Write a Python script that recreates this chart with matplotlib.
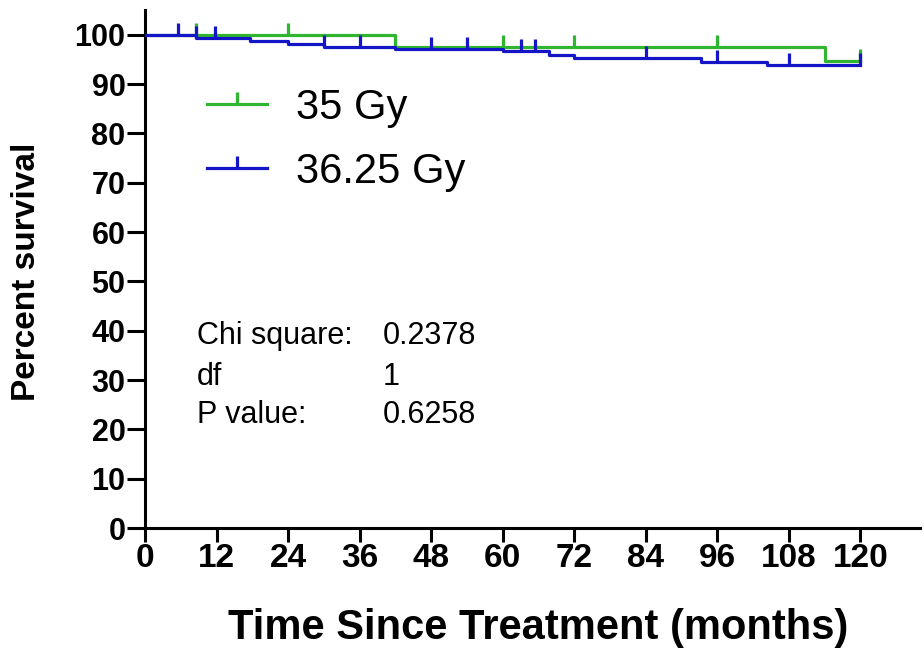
import matplotlib
matplotlib.use("Agg")
import matplotlib.pyplot as plt
from matplotlib.lines import Line2D

# ---- data ----
green_label = "35 Gy"
green_times = [0, 42, 114, 120]
green_surv = [100, 97.4, 94.7, 94.7]
green_censor_t = [8.5, 24, 60, 72, 96, 120]

blue_label = "36.25 Gy"
blue_times = [0, 8.5, 17.6, 24, 30, 42, 60, 67.8, 72, 93.2, 104.3, 120]
blue_surv = [100, 99.3, 98.7, 98.2, 97.6, 97.1, 96.6, 95.9, 95.3, 94.5, 93.8, 93.8]
blue_censor_t = [5.5, 8.5, 11.7, 30, 36, 48, 54, 63, 65.5, 84, 96, 108, 120]

x_ticks = [0, 12, 24, 36, 48, 60, 72, 84, 96, 108, 120]
y_ticks = [0, 10, 20, 30, 40, 50, 60, 70, 80, 90, 100]

stat_names = ["Chi square:", "df", "P value:"]
stat_values = ["0.2378", "1", "0.6258"]

GREEN = "#2fb52f"
BLUE = "#1515c8"

def level_at(times, surv, t):
    lv = surv[0]
    for ti, si in zip(times, surv):
        if ti <= t:
            lv = si
    return lv

W, H = 924, 655
fig = plt.figure(figsize=(W / 100, H / 100), dpi=100)
ax = fig.add_axes([145 / W, (H - 528) / H, 775 / W, 518 / H])

ax.step(green_times, green_surv, where="post", color=GREEN, lw=2.3, zorder=3)
ax.plot(green_censor_t, [level_at(green_times, green_surv, t) for t in green_censor_t],
        ls="none", marker=2, ms=9, mew=2.3, color=GREEN, zorder=3)
ax.step(blue_times, blue_surv, where="post", color=BLUE, lw=2.3, zorder=4)
ax.plot(blue_censor_t, [level_at(blue_times, blue_surv, t) for t in blue_censor_t],
        ls="none", marker=2, ms=9, mew=2.3, color=BLUE, zorder=4)

ax.set_xlim(0, 130)
ax.set_ylim(0, 105)
ax.set_xticks(x_ticks)
ax.set_yticks(y_ticks)
for s in ["top", "right"]:
    ax.spines[s].set_visible(False)
for s in ["left", "bottom"]:
    ax.spines[s].set_linewidth(2.2)

ax.tick_params(axis="both", direction="out", width=2.2, color="black")
ax.tick_params(axis="x", length=10, pad=1)
ax.tick_params(axis="y", length=13, pad=1)
for lab in ax.get_xticklabels():
    lab.set_fontfamily("Liberation Sans")
    lab.set_fontweight("bold")
    lab.set_fontsize(24)
for lab in ax.get_yticklabels():
    lab.set_fontfamily("Liberation Sans")
    lab.set_fontweight("bold")
    lab.set_fontsize(22)

ax.set_xlabel("Time Since Treatment (months)", fontsize=30, fontweight="bold",
              fontfamily="Liberation Sans")
ax.set_ylabel("Percent survival", fontsize=24, fontweight="bold",
              fontfamily="Liberation Sans")
ax.xaxis.set_label_coords((538 - 145) / 775, (528 - 628) / 518)
ax.xaxis.label.set_va("center")
ax.yaxis.set_label_coords((27 - 145) / 775, (528 - 272) / 518)
ax.yaxis.label.set_va("center")

handles = [Line2D([0], [0], color=GREEN, lw=2.3, marker=2, ms=9, mew=2.3),
           Line2D([0], [0], color=BLUE, lw=2.3, marker=2, ms=9, mew=2.3)]
leg = fig.legend(handles, [green_label, blue_label], loc="upper left",
                 bbox_to_anchor=(207 / W, 1 - 88 / H), frameon=False,
                 prop={"family": "Liberation Sans", "size": 30},
                 handlelength=1.44, handletextpad=0.7, labelspacing=0.57,
                 borderpad=0, borderaxespad=0, numpoints=1)

rows_y = [336, 377, 415]
for name, val, yy in zip(stat_names, stat_values, rows_y):
    fig.text(197 / W, 1 - yy / H, name, fontsize=22, family="Liberation Sans",
             va="center", ha="left")
    fig.text(383 / W, 1 - yy / H, val, fontsize=22, family="Liberation Sans",
             va="center", ha="left")

fig.savefig("out.png", dpi=100)
